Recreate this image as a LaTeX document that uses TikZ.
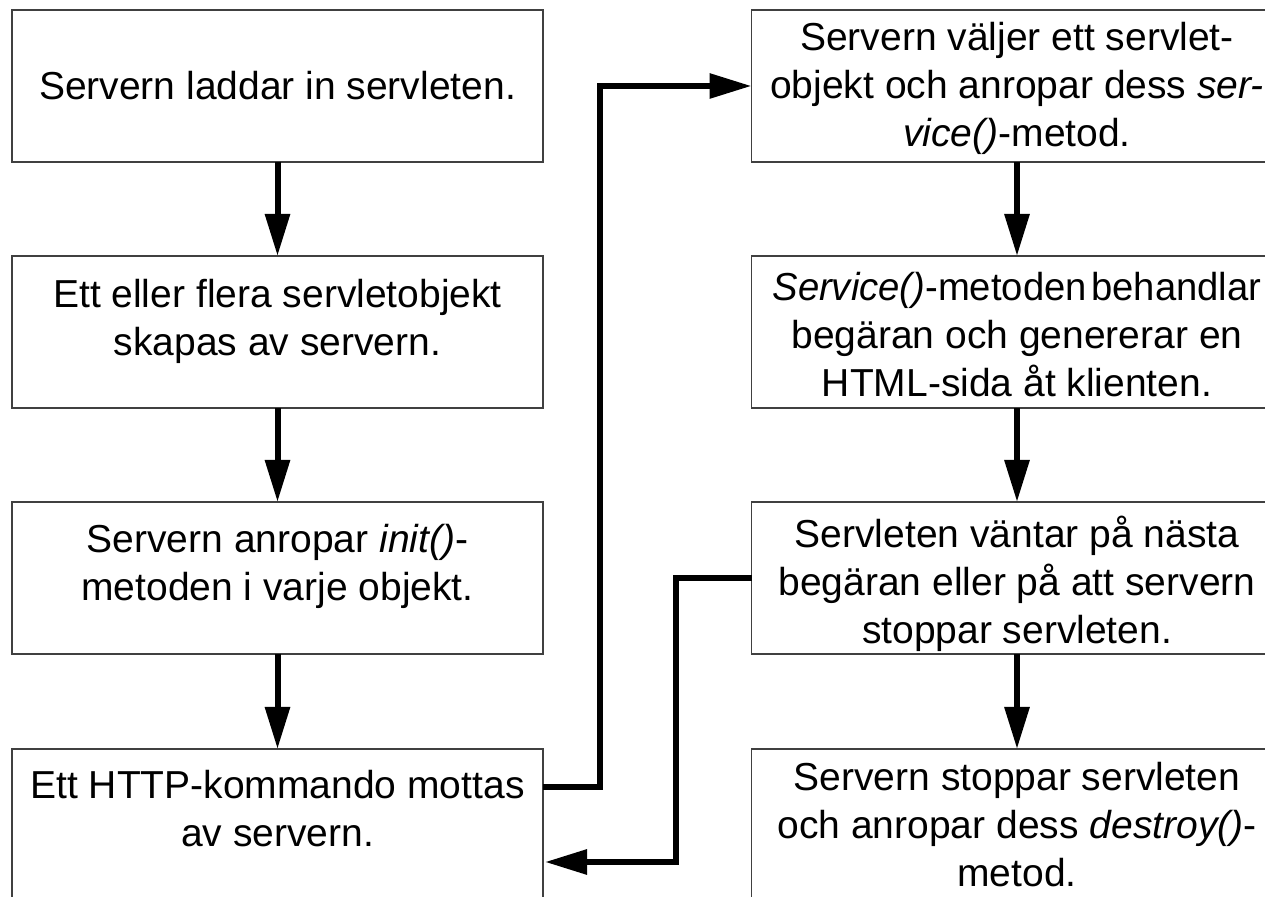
\documentclass[tikz,border=0pt]{standalone}
\usepackage{fontspec}
\setmainfont{Liberation Sans}
\usetikzlibrary{arrows.meta,calc}

\begin{document}
\begin{tikzpicture}[x=0.5pt,y=-0.5pt,
  stepbox/.style={draw=black!75,line width=0.6pt,minimum width=265.5pt,
    minimum height=76pt,inner sep=0pt,outer sep=0pt},
  txt/.style={align=center,inner sep=0pt,
    font=\fontsize{19.5pt}{24pt}\selectfont},
  flow/.style={line width=3pt,line join=miter,
    -{Triangle[length=21pt,width=12pt]}}]

% page frame; boxes of the last row and right column run past it
\path[use as bounding box,clip] (0,0) rectangle (1265,897);

% left column
\node[stepbox] (l1) at (277.5,86) {};
\node[stepbox] (l2) at (277.5,332) {};
\node[stepbox] (l3) at (277.5,578) {};
\node[stepbox] (l4) at (277.5,825) {};
% right column
\node[stepbox] (r1) at (1017,86) {};
\node[stepbox] (r2) at (1017,332) {};
\node[stepbox] (r3) at (1017,578) {};
\node[stepbox] (r4) at (1017,825) {};

% texts
\node[txt] (tl1) at (l1.center) {Servern laddar in servleten.};
\node[txt] (tl2) at ($(l2.center)+(0,-11)$) {Ett eller flera servletobjekt\\skapas av servern.};
\node[txt] (tl3) at ($(l3.center)+(0,-12)$) {Servern anropar \textit{init()}-\\metoden i varje objekt.};
\node[txt] (tl4) at ($(l4.center)+(0,-16)$) {Ett HTTP-kommando mottas\\av servern.};
\node[txt] (tr1) at ($(r1.center)+(0,2)$) {Servern väljer ett servlet-\\objekt och anropar dess \textit{ser-}\\\textit{vice()}-metod.};
\node[txt] (tr2) at ($(r2.center)+(0,3)$) {\scalebox{0.98}[1]{\textit{Service()}-metoden\hspace{0.12em}behandlar}\\begäran och genererar en\\HTML-sida åt klienten.};
\node[txt] (tr3) at ($(r3.center)+(0,6)$) {Servleten väntar på nästa\\begäran eller på att servern\\stoppar servleten.};
\node[txt] (tr4) at (r4.center) {Servern stoppar servleten\\och anropar dess \textit{destroy()}-\\metod.};

% straight flow down each column
\draw[flow] (l1.south) -- (l2.north);
\draw[flow] (l2.south) -- (l3.north);
\draw[flow] (l3.south) -- (l4.north);
\draw[flow] (r1.south) -- (r2.north);
\draw[flow] (r2.south) -- (r3.north);
\draw[flow] (r3.south) -- (r4.north);

% request loop between the columns
\coordinate (cmdout) at ($(l4.north east)+(0,38)$);
\coordinate (cmdin) at ($(l4.north east)+(2,113)$);
\draw[flow] (cmdout) -- ++(57,0) |- (r1.west);
\draw[flow] (r3.west) -- ++(-76,0) |- (cmdin);
\end{tikzpicture}
\end{document}
